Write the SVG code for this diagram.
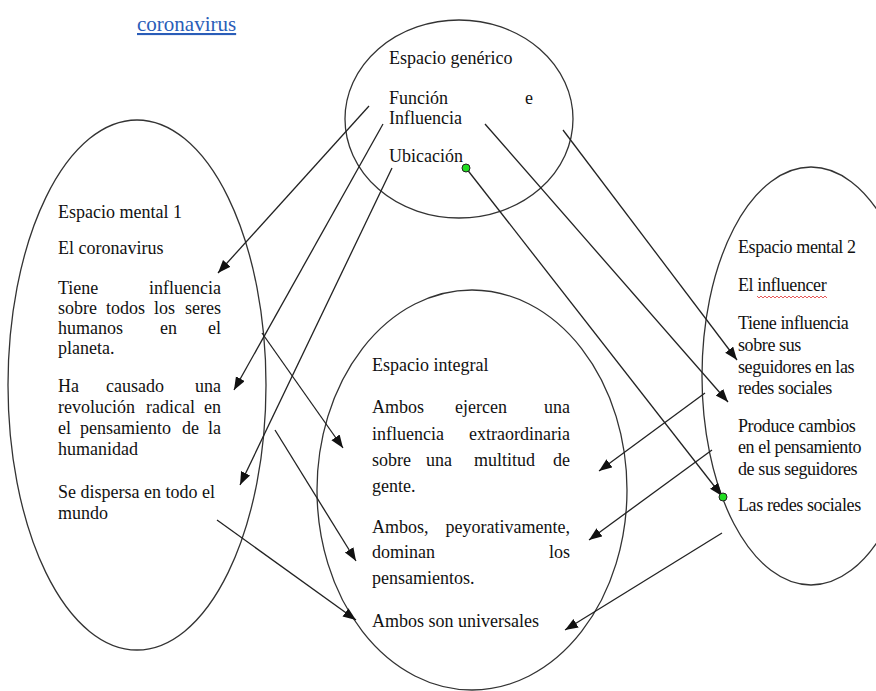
<svg xmlns="http://www.w3.org/2000/svg" width="876" height="691" viewBox="0 0 876 691">
<defs>
<marker id="ah" markerUnits="userSpaceOnUse" markerWidth="14" markerHeight="12" refX="13" refY="5" orient="auto">
<path d="M0,0 L13,5 L0,10 Z" fill="#111"/>
</marker>
<style>
.sh{fill:none;stroke:#333;stroke-width:1.3}
.t{font-family:"Liberation Serif",serif;font-size:18px;fill:#111}
.e{text-anchor:end}
.r{letter-spacing:-0.4px}
.c line{stroke:#222;stroke-width:1.3;marker-end:url(#ah)}
.dot{fill:#22dd22;stroke:#222;stroke-width:1}
</style>
</defs>
<rect width="876" height="691" fill="#fff"/>
<text x="137" y="31" font-family="Liberation Serif, serif" font-size="21" fill="#2a5db8" text-decoration="underline">coronavirus</text>

<g id="generico">
<ellipse class="sh" cx="459" cy="119" rx="114" ry="99"/>
<text class="t" x="389" y="64">Espacio genérico</text>
<text class="t" x="389" y="104">Función</text>
<text class="t e" x="533" y="104">e</text>
<text class="t" x="389" y="124">Influencia</text>
<text class="t" x="389" y="162">Ubicación</text>
</g>

<g id="mental1">
<ellipse class="sh" cx="137" cy="385" rx="129" ry="265"/>
<text class="t" x="58" y="218">Espacio mental 1</text>
<text class="t" x="58" y="254">El coronavirus</text>
<text class="t" x="58" y="294">Tiene</text><text class="t e" x="221" y="294">influencia</text>
<text class="t" x="58" y="314">sobre</text><text class="t" x="106" y="314">todos</text><text class="t" x="154" y="314">los</text><text class="t e" x="221" y="314">seres</text>
<text class="t" x="58" y="334">humanos</text><text class="t" x="160" y="334">en</text><text class="t e" x="221" y="334">el</text>
<text class="t" x="58" y="354">planeta.</text>
<text class="t" x="58" y="392">Ha</text><text class="t" x="106" y="392">causado</text><text class="t e" x="221" y="392">una</text>
<text class="t" x="58" y="413">revolución</text><text class="t" x="146" y="413">radical</text><text class="t e" x="221" y="413">en</text>
<text class="t" x="58" y="434">el</text><text class="t" x="80" y="434">pensamiento</text><text class="t e" x="199" y="434">de</text><text class="t e" x="221" y="434">la</text>
<text class="t" x="58" y="455">humanidad</text>
<text class="t" x="58" y="498">Se dispersa en todo el</text>
<text class="t" x="58" y="519">mundo</text>
</g>

<g id="integral">
<ellipse class="sh" cx="472" cy="490" rx="155" ry="200"/>
<text class="t" x="372" y="371">Espacio integral</text>
<text class="t" x="372" y="413">Ambos</text><text class="t" x="455" y="413">ejercen</text><text class="t e" x="570" y="413">una</text>
<text class="t" x="372" y="440">influencia</text><text class="t e" x="570" y="440">extraordinaria</text>
<text class="t" x="372" y="466">sobre</text><text class="t" x="426" y="466">una</text><text class="t" x="474" y="466">multitud</text><text class="t e" x="570" y="466">de</text>
<text class="t" x="372" y="492">gente.</text>
<text class="t" x="372" y="533">Ambos,</text><text class="t e" x="570" y="533">peyorativamente,</text>
<text class="t" x="372" y="558">dominan</text><text class="t e" x="570" y="558">los</text>
<text class="t" x="372" y="584">pensamientos.</text>
<text class="t" x="372" y="627">Ambos son universales</text>
</g>

<g id="mental2">
<ellipse class="sh" cx="811" cy="376" rx="109" ry="209"/>
<text class="t r" x="738" y="253">Espacio mental 2</text>
<text class="t r" x="738" y="291">El influencer</text>
<path d="M757,296 l2,2 l2,-2 l2,2 l2,-2 l2,2 l2,-2 l2,2 l2,-2 l2,2 l2,-2 l2,2 l2,-2 l2,2 l2,-2 l2,2 l2,-2 l2,2 l2,-2 l2,2 l2,-2 l2,2 l2,-2 l2,2 l2,-2 l2,2 l2,-2 l2,2 l2,-2 l2,2 l2,-2 l2,2 l2,-2 l2,2 l2,-2 l2,2" fill="none" stroke="#e03030" stroke-width="0.8"/>
<text class="t r" x="738" y="329">Tiene influencia</text>
<text class="t r" x="738" y="351">sobre sus</text>
<text class="t r" x="738" y="373">seguidores en las</text>
<text class="t r" x="738" y="394">redes sociales</text>
<text class="t r" x="738" y="432">Produce cambios</text>
<text class="t r" x="738" y="453">en el pensamiento</text>
<text class="t r" x="738" y="475">de sus seguidores</text>
<text class="t r" x="738" y="511">Las redes sociales</text>
</g>

<g id="connectors" class="c">
<line x1="369" y1="106" x2="218" y2="273"/>
<line x1="383" y1="124" x2="234" y2="390"/>
<line x1="392" y1="168" x2="240" y2="485"/>
<line x1="466" y1="168" x2="722" y2="496"/>
<line x1="485" y1="124" x2="728" y2="402"/>
<line x1="563" y1="130" x2="737" y2="360"/>
<line x1="262" y1="333" x2="343" y2="448"/>
<line x1="275" y1="430" x2="356" y2="561"/>
<line x1="217" y1="520" x2="356" y2="620"/>
<line x1="705" y1="393" x2="599" y2="471"/>
<line x1="712" y1="450" x2="589" y2="540"/>
<line x1="722" y1="533" x2="565" y2="630"/>
</g>
<circle class="dot" cx="466" cy="168" r="4"/>
<circle class="dot" cx="723" cy="497" r="4"/>
</svg>
